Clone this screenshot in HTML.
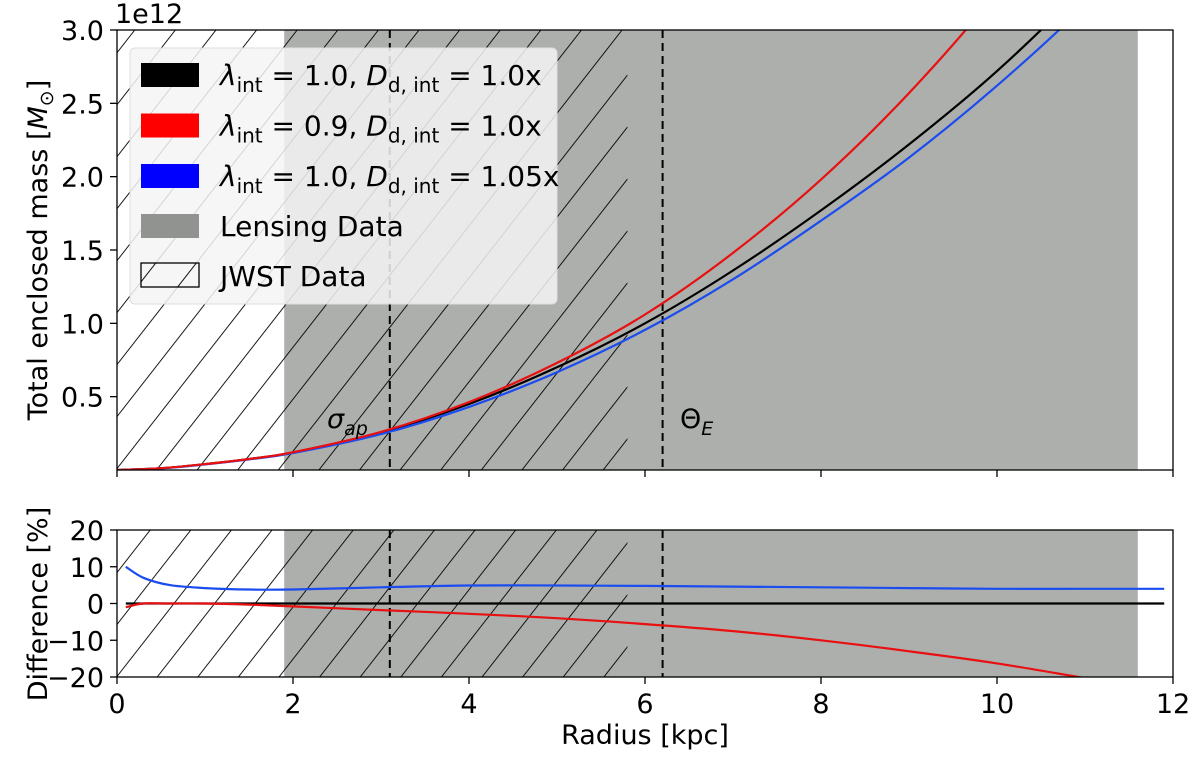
<!DOCTYPE html>
<html><head><meta charset="utf-8"><style>
body{margin:0;background:#fff;}
svg text{font-family:"DejaVu Sans","Liberation Sans",sans-serif;fill:#000;}
</style></head><body>
<svg id="chart" width="1200" height="752" xmlns="http://www.w3.org/2000/svg">
<defs>
<pattern id="hatch" patternUnits="userSpaceOnUse" width="32" height="32" patternTransform="translate(117,0) rotate(38)">
<line x1="0" y1="-5" x2="0" y2="37" stroke="#000" stroke-width="1.8"/>
</pattern>
<clipPath id="clipTop"><rect x="117" y="30" width="1056" height="440"/></clipPath>
<clipPath id="clipBot"><rect x="117" y="530" width="1056" height="147"/></clipPath>
</defs>
<g id="gtop"></g>
<g id="gbot"></g>
</svg>
<script>
const radiusGrid = [0,0.5,1,1.5,2,3,4,5,6,7,8,9,10,11,12];
const massBlack = [0,0.012,0.04,0.075,0.12,0.255,0.45,0.70,1.00,1.36,1.77,2.22,2.72,3.30,3.95];
const massRed   = [0,0.012,0.04,0.075,0.121,0.26,0.463,0.73,1.06,1.48,1.98,2.57,3.26,4.1,5.0];
const massBlue  = [0,0.011,0.038,0.072,0.115,0.245,0.43,0.667,0.955,1.30,1.70,2.13,2.62,3.17,3.80];
const diffR   = [0.1,0.3,0.6,1,1.5,2,3,4,5,6,7,8,9,10,11,11.9];
const diffBlack = [0,0,0,0,0,0,0,0,0,0,0,0,0,0,0,0];
const diffRed   = [-1,0,0,0,-0.3,-0.8,-1.8,-2.8,-4,-5.6,-7.5,-10,-13,-16.3,-20.3,-24];
const diffBlue  = [10,7,5,4.2,3.8,3.8,4.4,4.9,4.9,4.8,4.6,4.4,4.2,4.0,4.0,4.0];
const xTicks = [0,2,4,6,8,10,12];
const yTopTicks = [0.5,1.0,1.5,2.0,2.5,3.0];
const yBotTicks = [20,10,0,-10,-20];
const lensing = [1.9,11.6];
const jwst = [0,5.8];
const vlines = [3.1,6.2];

const NS='http://www.w3.org/2000/svg';
const X = r => 117 + r*88;
const YT = m => 470 - m*146.67;
const YB = d => 603.5 - d*3.675;
const FS = 27;
function mk(parent,tag,attrs,text){const e=document.createElementNS(NS,tag);for(const k in attrs)e.setAttribute(k,attrs[k]);if(text!==undefined)e.textContent=text;parent.appendChild(e);return e;}
const gTop=document.getElementById('gtop'), gBot=document.getElementById('gbot');

function panel(g,y0,y1,clip){
  const c=mk(g,'g',{'clip-path':'url(#'+clip+')'});
  const lr=mk(c,'rect',{x:X(lensing[0]),y:y0,width:X(lensing[1])-X(lensing[0]),height:y1-y0,fill:'#adafad'});
  
  
  const hr=mk(c,'rect',{x:X(jwst[0]),y:y0,width:X(jwst[1])-X(jwst[0]),height:y1-y0,fill:'url(#hatch)'});
  
  
  vlines.forEach((v,i)=>{
    const l=mk(c,'line',{x1:X(v),x2:X(v),y1:y0,y2:y1,stroke:'#000','stroke-width':2,'stroke-dasharray':'8,5'});
    
    
  });
  return c;
}
function line(c,xs,ys,Y,color,name){
  const P=xs.map((x,i)=>[X(x),Y(ys[i])]);
  let d='M'+P[0][0].toFixed(1)+','+P[0][1].toFixed(1);
  for(let i=0;i<P.length-1;i++){
    const p0=P[Math.max(0,i-1)],p1=P[i],p2=P[i+1],p3=P[Math.min(P.length-1,i+2)];
    const c1=[p1[0]+(p2[0]-p0[0])/6,p1[1]+(p2[1]-p0[1])/6];
    const c2=[p2[0]-(p3[0]-p1[0])/6,p2[1]-(p3[1]-p1[1])/6];
    d+='C'+c1.map(v=>v.toFixed(1)).join(',')+' '+c2.map(v=>v.toFixed(1)).join(',')+' '+p2.map(v=>v.toFixed(1)).join(',');
  }
  const p=mk(c,'path',{d:d,fill:'none',stroke:color,'stroke-width':2.2});
  
  
}
const ct=panel(gTop,30,470,'clipTop');
line(ct,radiusGrid,massBlack,YT,'#000','mass-line-black');
line(ct,radiusGrid,massBlue,YT,'#1a4cf0','mass-line-blue');
line(ct,radiusGrid,massRed,YT,'#e81010','mass-line-red');
const s1=mk(gTop,'text',{x:327,y:428,'font-size':FS,'font-style':'italic'},'σ');


mk(s1,'tspan',{'font-size':19,dy:7},'ap');
const s2=mk(gTop,'text',{x:680,y:428,'font-size':FS},'Θ');


mk(s2,'tspan',{'font-size':19,dy:7,'font-style':'italic'},'E');
const lg=mk(gTop,'g',{});


mk(lg,'rect',{x:130,y:48,width:427,height:256,rx:5,fill:'rgba(245,245,245,0.85)',stroke:'#ddd'});
const leg=[['#000','1.0','1.0x'],['#f00','0.9','1.0x'],['#00f','1.0','1.05x']];
leg.forEach((L,i)=>{
  const y=75+i*50.5;
  const sw=mk(lg,'rect',{x:141,y:y-12,width:58,height:24,fill:L[0]});
  
  
  const t=mk(lg,'text',{x:220,y:y+10,'font-size':28});
  
  
  mk(t,'tspan',{'font-style':'italic'},'λ');mk(t,'tspan',{'font-size':20,dy:7},'int');
  mk(t,'tspan',{dy:-7},' = '+L[1]+', ');mk(t,'tspan',{'font-style':'italic'},'D');
  mk(t,'tspan',{'font-size':20,dy:7},'d, int');mk(t,'tspan',{dy:-7},' = '+L[2]);
});
const sw4=mk(lg,'rect',{x:141,y:214,width:58,height:24,fill:'#919391'});


const t4=mk(lg,'text',{x:220,y:236,'font-size':28},'Lensing Data');


const sw5=mk(lg,'rect',{x:141,y:263,width:58,height:24,fill:'url(#hatch)',stroke:'#000','stroke-width':1.3});


const t5=mk(lg,'text',{x:220,y:286,'font-size':28},'JWST Data');


const cb=panel(gBot,530,677,'clipBot');
line(cb,diffR,diffBlack,YB,'#000','diff-line-black');
line(cb,diffR,diffBlue,YB,'#1a4cf0','diff-line-blue');
line(cb,diffR,diffRed,YB,'#e81010','diff-line-red');
[[30,470,gTop],[530,677,gBot]].forEach(([a,b,g])=>{
  mk(g,'rect',{x:117,y:a,width:1056,height:b-a,fill:'none',stroke:'#000','stroke-width':1.3});
  xTicks.forEach(v=>mk(g,'line',{x1:X(v),x2:X(v),y1:b,y2:b+7,stroke:'#000','stroke-width':1.3}));
});
xTicks.forEach(v=>{const t=mk(gBot,'text',{x:X(v),y:713,'font-size':FS,'text-anchor':'middle'},String(v));
  
  });
yTopTicks.forEach(v=>{mk(gTop,'line',{x1:110,x2:117,y1:YT(v),y2:YT(v),stroke:'#000','stroke-width':1.3});
  const t=mk(gTop,'text',{x:104,y:YT(v)+10,'font-size':FS,'text-anchor':'end'},v.toFixed(1));
  
  });
yBotTicks.forEach(v=>{mk(gBot,'line',{x1:110,x2:117,y1:YB(v),y2:YB(v),stroke:'#000','stroke-width':1.3});
  const t=mk(gBot,'text',{x:104,y:YB(v)+10,'font-size':FS,'text-anchor':'end'},(v<0?'−':'')+Math.abs(v));
  
  });
const off=mk(gTop,'text',{x:115,y:23,'font-size':FS},'1e12');


const yl=mk(gTop,'text',{transform:'translate(47,250) rotate(-90)','font-size':FS,'text-anchor':'middle'},'Total enclosed mass [');


mk(yl,'tspan',{'font-style':'italic'},'M');mk(yl,'tspan',{'font-size':19,dy:6},'⊙');mk(yl,'tspan',{dy:-6},']');
const yl2=mk(gBot,'text',{transform:'translate(47,604) rotate(-90)','font-size':FS,'text-anchor':'middle'},'Difference [%]');


const xl=mk(gBot,'text',{x:645,y:744,'font-size':FS,'text-anchor':'middle'},'Radius [kpc]');


</script>
</body></html>
